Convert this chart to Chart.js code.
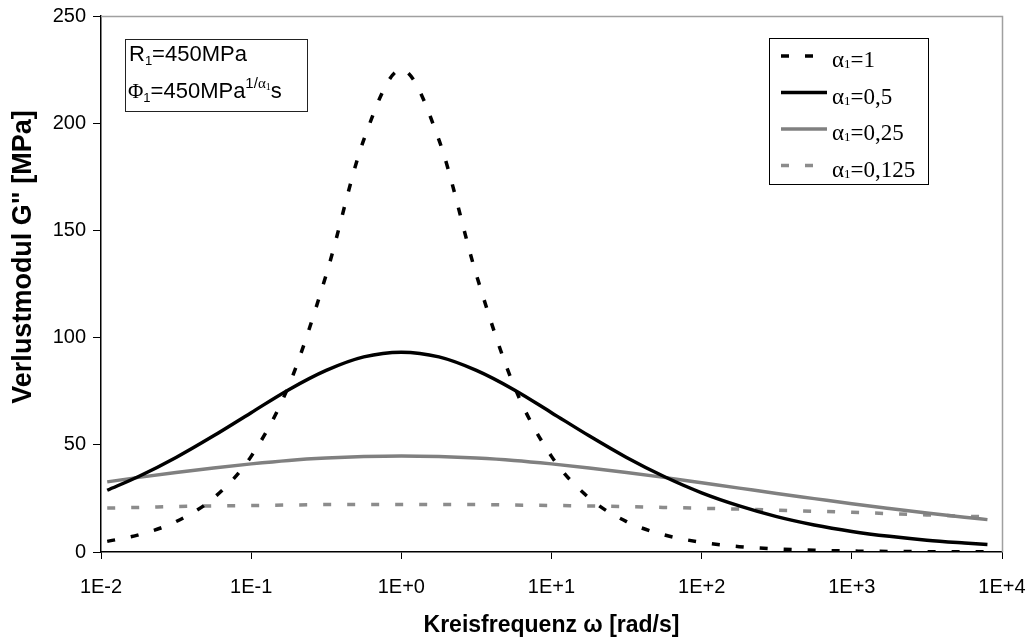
<!DOCTYPE html>
<html>
<head>
<meta charset="utf-8">
<script src="https://cdn.jsdelivr.net/npm/chart.js@4"></script>
<style>
  html, body { margin: 0; padding: 0; background: #fff; }
  #wrap { width: 1036px; height: 643px; }
</style>
</head>
<body>
<div id="wrap"><canvas id="chart" width="1036" height="643"></canvas></div>
<script>
// ===== Data =====
const omega = [0.011, 0.0178, 0.0316, 0.0562, 0.1, 0.178, 0.316, 0.562, 1, 1.78, 3.16, 5.62, 10,
               17.8, 31.6, 56.2, 100, 178, 316, 562, 1000, 1780, 3160, 5620, 8000];
const alpha1 = [4.95, 8.0, 14.2, 25.2, 44.6, 77.6, 129.3, 192.2, 225, 192.2, 129.3, 77.6, 44.6,
                25.2, 14.2, 8.0, 4.5, 2.5, 1.4, 0.8, 0.45, 0.25, 0.14, 0.08, 0.06];
const alpha05 = [28.8, 35.2, 44.1, 54.2, 65.0, 75.7, 84.7, 91.0, 93.2, 91.0, 84.7, 75.7, 65.0,
                 54.2, 44.1, 35.2, 27.6, 21.5, 16.5, 12.6, 9.6, 7.3, 5.5, 4.2, 3.5];
const alpha025 = [32.7, 34.8, 37.1, 39.2, 41.1, 42.7, 43.8, 44.5, 44.8, 44.5, 43.8, 42.7, 41.1,
                  39.2, 37.1, 34.8, 32.3, 29.8, 27.3, 24.9, 22.5, 20.3, 18.2, 16.2, 15.1];
const alpha0125 = [20.5, 20.8, 21.2, 21.5, 21.7, 21.9, 22.1, 22.1, 22.2, 22.1, 22.1, 21.9, 21.7,
                   21.5, 21.2, 20.8, 20.4, 20.0, 19.5, 19.0, 18.5, 17.9, 17.3, 16.7, 16.4];
const seriesNames = ['1', '0,5', '0,25', '0,125'];
const xTickValues = [0.01, 0.1, 1, 10, 100, 1000, 10000];
const xTickLabels = ['1E-2', '1E-1', '1E+0', '1E+1', '1E+2', '1E+3', '1E+4'];
const yTitle = 'Verlustmodul G" [MPa]';
const xTitle = 'Kreisfrequenz ω [rad/s]';

const SANS = '"Liberation Sans", Arial, sans-serif';
const SERIF = '"Liberation Serif", "Times New Roman", serif';

function pts(values) {
    return omega.map((w, i) => ({ x: w, y: values[i] }));
}

// draw a run of text pieces (for sub/superscripts)
function drawRun(ctx, x, y, parts) {
    parts.forEach(p => {
        ctx.font = p.font;
        ctx.fillText(p.t, x, y + (p.dy || 0));
        x += ctx.measureText(p.t).width;
    });
}

const decor = {
    id: 'decor',
    beforeDatasetsDraw(chart) {
        const { ctx, chartArea: a } = chart;
        ctx.save();
        ctx.strokeStyle = '#a0a0a0';
        ctx.lineWidth = 1.5;
        ctx.beginPath();
        ctx.moveTo(a.left, a.top + 0.5);
        ctx.lineTo(a.right + 0.5, a.top + 0.5);
        ctx.lineTo(a.right + 0.5, a.bottom);
        ctx.stroke();
        ctx.restore();
    },
    afterDraw(chart) {
        const ctx = chart.ctx;
        ctx.save();
        ctx.textBaseline = 'alphabetic';
        ctx.textAlign = 'left';

        // y axis title
        ctx.save();
        ctx.translate(24, 257);
        ctx.rotate(-Math.PI / 2);
        ctx.textAlign = 'center';
        ctx.textBaseline = 'middle';
        ctx.fillStyle = '#000';
        ctx.font = 'bold 27px ' + SANS;
        ctx.fillText(yTitle, 0, 0);
        ctx.restore();

        // parameter box
        ctx.fillStyle = '#fff';
        ctx.fillRect(125.5, 39.5, 182, 72);
        ctx.strokeStyle = '#222';
        ctx.lineWidth = 1;
        ctx.strokeRect(125.5, 39.5, 182, 72);
        ctx.fillStyle = '#000';
        drawRun(ctx, 129, 61, [
            { t: 'R', font: '22px ' + SANS },
            { t: '1', font: '13px ' + SANS, dy: 4 },
            { t: '=450MPa', font: '22px ' + SANS }
        ]);
        drawRun(ctx, 128, 98, [
            { t: 'Φ', font: '21px ' + SERIF },
            { t: '1', font: '13px ' + SANS, dy: 4 },
            { t: '=450MPa', font: '22px ' + SANS },
            { t: '1/', font: '15px ' + SANS, dy: -10 },
            { t: 'α', font: '15px ' + SERIF, dy: -10 },
            { t: '1', font: '10px ' + SERIF, dy: -8 },
            { t: 's', font: '22px ' + SANS }
        ]);

        // legend
        ctx.fillStyle = '#fff';
        ctx.fillRect(769.5, 38.5, 159, 146);
        ctx.strokeStyle = '#000';
        ctx.strokeRect(769.5, 38.5, 159, 146);
        const base = [67, 103.5, 140, 176.5];
        chart.data.datasets.forEach((ds, i) => {
            const ly = base[i] - 11;
            ctx.save();
            ctx.beginPath();
            ctx.rect(781, ly - 5, 46, 10);
            ctx.clip();
            ctx.strokeStyle = ds.borderColor;
            ctx.lineWidth = ds.borderWidth;
            ctx.setLineDash(ds.borderDash || []);
            ctx.beginPath();
            ctx.moveTo(781, ly);
            ctx.lineTo(827, ly);
            ctx.stroke();
            ctx.restore();
            ctx.fillStyle = '#000';
            drawRun(ctx, 832, base[i], [
                { t: 'α', font: '23px ' + SERIF },
                { t: '1', font: '13px ' + SERIF, dy: 1 },
                { t: '=' + seriesNames[i], font: '23px ' + SERIF }
            ]);
        });
        ctx.restore();
    }
};

const common = {
    fill: false,
    pointRadius: 0,
    borderWidth: 3.5,
    cubicInterpolationMode: 'monotone'
};

new Chart(document.getElementById('chart'), {
    type: 'line',
    data: {
        datasets: [
            Object.assign({ label: 'α₁=1', data: pts(alpha1), borderColor: '#000', borderDash: [8, 16] }, common),
            Object.assign({ label: 'α₁=0,5', data: pts(alpha05), borderColor: '#000' }, common),
            Object.assign({ label: 'α₁=0,25', data: pts(alpha025), borderColor: '#808080' }, common),
            Object.assign({ label: 'α₁=0,125', data: pts(alpha0125), borderColor: '#8c8c8c', borderDash: [8, 16] }, common)
        ]
    },
    options: {
        responsive: false,
        animation: false,
        layout: { padding: { top: 16, right: 34, left: 0, bottom: 0 } },
        plugins: {
            legend: { display: false },
            tooltip: { enabled: false }
        },
        scales: {
            x: {
                type: 'logarithmic',
                min: 0.01,
                max: 10000,
                afterBuildTicks: s => { s.ticks = xTickValues.map(v => ({ value: v })); },
                afterFit: s => { s.height = 91; s.paddingLeft = 0; s.paddingRight = 0; },
                ticks: {
                    autoSkip: false,
                    maxRotation: 0,
                    padding: 16,
                    color: '#000',
                    font: { family: SANS, size: 20 },
                    callback: (v) => xTickLabels[xTickValues.indexOf(v)] || ''
                },
                grid: { drawOnChartArea: false, drawTicks: true, tickLength: 7, color: '#000' },
                border: { color: '#000', width: 1.5 },
                title: {
                    display: true,
                    text: xTitle,
                    color: '#000',
                    font: { family: SANS, size: 23, weight: 'bold' },
                    padding: { top: 0, bottom: 4 }
                }
            },
            y: {
                min: 0,
                max: 250,
                afterFit: s => { s.width = 101; s.paddingTop = 0; s.paddingBottom = 0; },
                ticks: {
                    stepSize: 50,
                    padding: 7,
                    color: '#000',
                    font: { family: SANS, size: 20 }
                },
                grid: { drawOnChartArea: false, drawTicks: true, tickLength: 8, color: '#000' },
                border: { color: '#000', width: 1.5 }
            }
        }
    },
    plugins: [decor]
});
</script>
</body>
</html>
